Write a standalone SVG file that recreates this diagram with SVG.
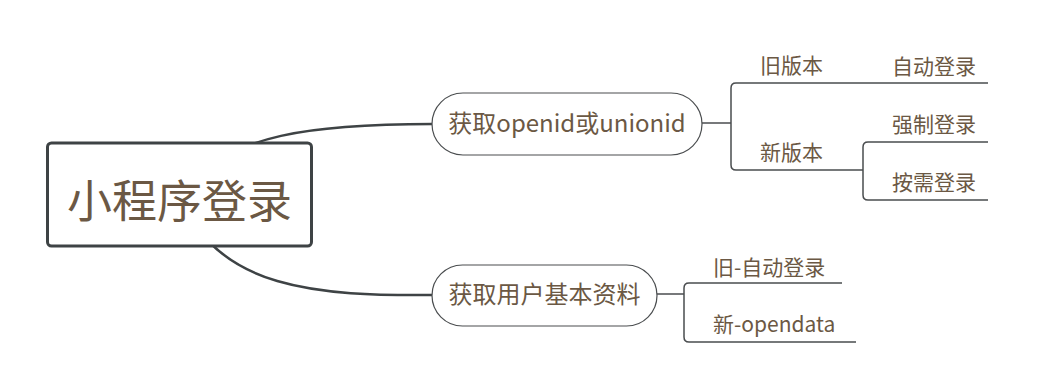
<svg xmlns="http://www.w3.org/2000/svg" width="1038" height="391" viewBox="0 0 1038 391">
<style>
  .t { font-family: "Noto Sans CJK SC", "Noto Sans", sans-serif; fill: #6b5844; }
  .main { fill: none; stroke: #3e4345; stroke-width: 2.5; }
  .br { fill: none; stroke: #4a4d4f; stroke-width: 1.5; }
  .pill { fill: #ffffff; stroke: #4a4d4f; stroke-width: 1.2; }
</style>
<rect width="1038" height="391" fill="#ffffff"/>
<g id="connectors">
  <path class="main" d="M 180 195 C 225 132, 320 124, 433 124"/>
  <path class="main" d="M 180 195 C 215 290, 320 296, 433 295"/>
  <path class="br" d="M 702 123 H 731"/>
  <path class="br" d="M 988 83 H 736 Q 731 83 731 88 V 165 Q 731 170 736 170 H 863"/>
  <path class="br" d="M 988 142 H 868 Q 863 142 863 147 V 195 Q 863 200 868 200 H 988"/>
  <path class="br" d="M 657 294 H 684"/>
  <path class="br" d="M 842 283 H 689 Q 684 283 684 288 V 337 Q 684 342 689 342 H 856"/>
</g>
<g id="root">
  <rect x="47.5" y="143" width="264" height="103" rx="4" fill="#ffffff" stroke="#3e4345" stroke-width="3"/>
  <text class="t" x="179.5" y="218" font-size="45" text-anchor="middle">小程序登录</text>
</g>
<g id="node-openid">
  <rect class="pill" x="432" y="93" width="270" height="62" rx="31"/>
  <text class="t" x="567" y="132" font-size="24" text-anchor="middle">获取openid或unionid</text>
</g>
<g id="node-userinfo">
  <rect class="pill" x="432" y="265" width="225" height="61" rx="30.5"/>
  <text class="t" x="544.5" y="303" font-size="24" text-anchor="middle">获取用户基本资料</text>
</g>
<g id="node-old">
  <text class="t" x="760" y="73" font-size="21">旧版本</text>
</g>
<g id="node-new">
  <text class="t" x="760" y="160" font-size="21">新版本</text>
</g>
<g id="node-auto">
  <text class="t" x="892" y="74" font-size="21">自动登录</text>
</g>
<g id="node-force">
  <text class="t" x="892" y="132" font-size="21">强制登录</text>
</g>
<g id="node-ondemand">
  <text class="t" x="892" y="190" font-size="21">按需登录</text>
</g>
<g id="node-old-auto">
  <text class="t" x="713" y="275" font-size="21">旧-自动登录</text>
</g>
<g id="node-opendata">
  <text class="t" x="713" y="332" font-size="21">新-opendata</text>
</g>
</svg>
